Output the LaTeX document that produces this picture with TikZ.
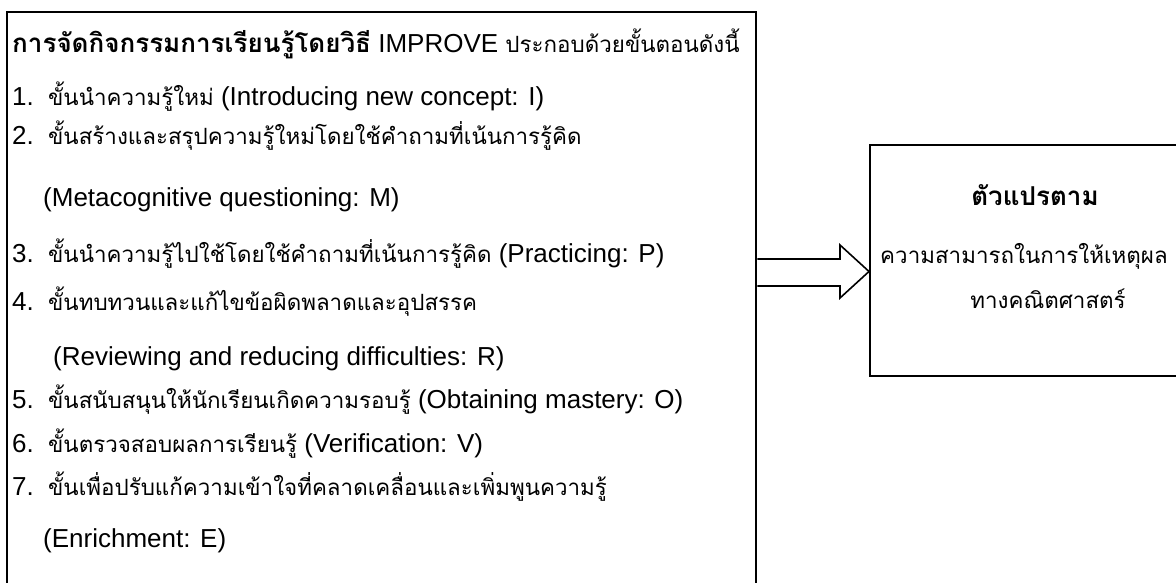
\documentclass[tikz,border=0pt]{standalone}
\usepackage{fontspec}
\setmainfont{Liberation Sans}
\newfontfamily\thaifont[Script=Thai,Scale=0.86]{Loma}
\newfontfamily\thaibfont[Script=Thai]{Loma}
\newcommand\tx[1]{{\thaifont #1}}
\newcommand\tb[1]{{\thaibfont\bfseries #1}}
\newcommand\numlab[1]{\makebox[36pt][l]{#1}}
\begin{document}
\begin{tikzpicture}[x=1pt,y=-1pt,
  boxline/.style={draw=black, line width=2.4pt, inner sep=0pt, fill=none},
  txt/.style={anchor=base west, inner sep=0pt, font=\fontsize{26pt}{30pt}\selectfont},
  ctxt/.style={anchor=base, inner sep=0pt, font=\fontsize{26pt}{30pt}\selectfont},
  arrowline/.style={draw=black, line width=1.6pt, fill=white, line join=miter}]
\useasboundingbox (0,0) rectangle (1176,583);
\clip (0,0) rectangle (1176,583);
\fill[white] (0,0) rectangle (1176,583);
% boxes
\node[boxline, anchor=north west, minimum width=749pt, minimum height=600pt] (L) at (6,11) {};
\node[boxline, anchor=north west, minimum width=345pt, minimum height=231pt] (R) at (869,144) {};
% left texts
\node[txt] (h) at (12,53) {\tb{การจัดกิจกรรมการเรียนรู้โดยวิธี} IMPROVE \tx{ประกอบด้วยขั้นตอนดังนี้}};
\node[txt] (l1) at (12,106) {\numlab{1.}\tx{ขั้นนำความรู้ใหม่} (Introducing new concept: I)};
\node[txt] (l2) at (12,145) {\numlab{2.}\tx{ขั้นสร้างและสรุปความรู้ใหม่โดยใช้คำถามที่เน้นการรู้คิด}};
\node[txt] (m) at (43,207) {(Metacognitive questioning: M)};
\node[txt] (l3) at (12,262) {\numlab{3.}\tx{ขั้นนำความรู้ไปใช้โดยใช้คำถามที่เน้นการรู้คิด} (Practicing: P)};
\node[txt] (l4) at (12,310) {\numlab{4.}\tx{ขั้นทบทวนและแก้ไขข้อผิดพลาดและอุปสรรค}};
\node[txt] (r) at (53,365) {(Reviewing and reducing difficulties: R)};
\node[txt] (l5) at (12,408) {\numlab{5.}\tx{ขั้นสนับสนุนให้นักเรียนเกิดความรอบรู้} (Obtaining mastery: O)};
\node[txt] (l6) at (12,452) {\numlab{6.}\tx{ขั้นตรวจสอบผลการเรียนรู้} (Verification: V)};
\node[txt] (l7) at (12,495) {\numlab{7.}\tx{ขั้นเพื่อปรับแก้ความเข้าใจที่คลาดเคลื่อนและเพิ่มพูนความรู้}};
\node[txt] (e) at (43,547) {(Enrichment: E)};
% right texts
\node[ctxt] (v1) at (1035,205) {\tb{ตัวแปรตาม}};
\node[ctxt] (v2) at (1024,263) {\tx{ความสามารถในการให้เหตุผล}};
\node[ctxt] (v3) at (1048,308) {\tx{ทางคณิตศาสตร์}};
% block arrow
\coordinate (su) at (840,259);
\coordinate (sd) at (840,286);
\coordinate (hu) at (840,245);
\coordinate (hd) at (840,298);
\coordinate (yt) at (0,271.5);
\draw[arrowline] (L.east |- su) -- (su) -- (hu) -- (R.west |- yt) -- (hd) -- (sd) -- (L.east |- sd);
\end{tikzpicture}
\end{document}
